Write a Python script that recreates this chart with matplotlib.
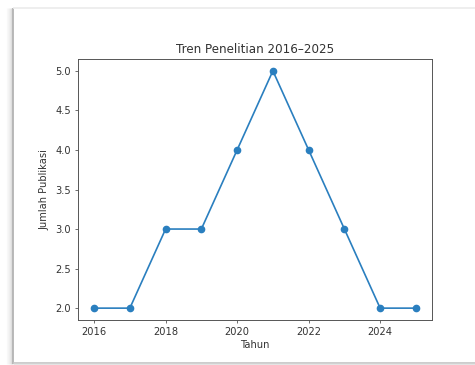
import matplotlib.pyplot as plt
from matplotlib.lines import Line2D

tahun = [2016, 2017, 2018, 2019, 2020, 2021, 2022, 2023, 2024, 2025]
jumlah = [2, 2, 3, 3, 4, 5, 4, 3, 2, 2]

W, H = 475, 365
fig = plt.figure(figsize=(W / 100, H / 100), dpi=100)
fig.patch.set_facecolor("white")


def px_line(xs, ys, color, lw, alpha=1.0):
    # garis dalam koordinat piksel (y dari atas)
    fig.add_artist(Line2D([x / W for x in xs], [1 - y / H for y in ys],
                          transform=fig.transFigure, color=color,
                          lw=lw, alpha=alpha, solid_capstyle="butt"))


# bayangan bingkai kartu
for off, a in [(6, 0.04), (5, 0.06), (4, 0.09), (3, 0.13), (2, 0.2), (1, 0.3)]:
    px_line([13 - off, 13 - off], [8, 364], "#888888", 1.0, a)
px_line([13, 13], [8, 364], "#b4b4b4", 1.3)
px_line([13, W], [7.5, 7.5], "#ebebeb", 1.2)
px_line([13, W], [362.5, 362.5], "#c4c4c4", 1.2)
px_line([13, W], [364, 364], "#e4e4e4", 1.0)

txt = "#333333"
ax = fig.add_axes([78 / W, 1 - 320 / H, (432 - 78) / W, (320 - 59) / H])
ax.plot(tahun, jumlah, marker="o", color="#2a7fbf", lw=1.2, markersize=4.5)

ax.set_title("Tren Penelitian 2016–2025", fontsize=8.6, pad=4.5, color=txt)
ax.set_xlabel("Tahun", fontsize=7.1, labelpad=2.5, color=txt)
ax.set_ylabel("Jumlah Publikasi", fontsize=7.1, labelpad=4, color=txt)
ax.set_xticks([2016, 2018, 2020, 2022, 2024])
ax.set_yticks([2.0, 2.5, 3.0, 3.5, 4.0, 4.5, 5.0])
ax.tick_params(labelsize=7.1, length=2.5, width=0.6, pad=2.5,
               colors="#555555", labelcolor=txt)
for s in ax.spines.values():
    s.set_linewidth(0.7)
    s.set_color("#555555")

fig.savefig("out.png", dpi=100)
